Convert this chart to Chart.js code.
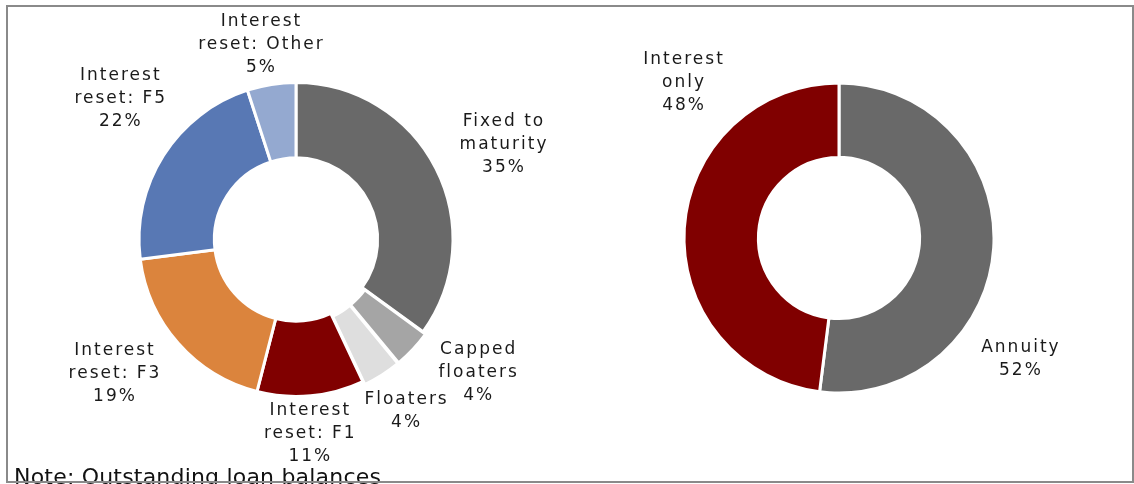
<!DOCTYPE html>
<html>
<head>
<meta charset="utf-8">
<script src="https://cdn.jsdelivr.net/npm/chart.js@4.4.0/dist/chart.umd.min.js"></script>
<style>
	html, body { margin: 0; padding: 0; background: #fff; overflow: hidden; }
	#wrap { position: relative; width: 1134px; height: 484px; overflow: hidden; }
	#frame { position: absolute; left: 6px; top: 5px; width: 1124px; height: 474px; border: 2px solid #8a8a8a; }
	#left { position: absolute; left: 0; top: 0; width: 592px; height: 479px; }
	#right { position: absolute; left: 544px; top: 0; width: 590px; height: 476px; }
	#note { position: absolute; left: 14px; top: 466px; font: 22px/1 "DejaVu Sans", Verdana, sans-serif; letter-spacing: 0.2px; color: #111; white-space: nowrap; }
</style>
</head>
<body>
<div id="wrap">
	<div id="left"><canvas id="leftChart"></canvas></div>
	<div id="right"><canvas id="rightChart"></canvas></div>
	<div id="note">Note: Outstanding loan balances</div>
	<div id="frame"></div>
</div>
<script>
// left donut: fixing type
var fixCategories = [
	["Fixed to", "maturity"],
	["Capped", "floaters"],
	["Floaters"],
	["Interest", "reset: F1"],
	["Interest", "reset: F3"],
	["Interest", "reset: F5"],
	["Interest", "reset: Other"]
];
var fixShares = [35, 4, 4, 11, 19, 22, 5];
var fixColors = ["#696969", "#a5a5a5", "#dedede", "#800000", "#db843d", "#5878b4", "#94a9d0"];

// right donut: repayment type
var repayCategories = [
	["Annuity"],
	["Interest", "only"]
];
var repayShares = [52, 48];
var repayColors = ["#696969", "#800000"];

/////////// labels outside the slices ///////////
var outsideLabels = {
	id: "outsideLabels",
	afterDatasetsDraw: function(chart, args, opts) {
		var ctx = chart.ctx;
		var meta = chart.getDatasetMeta(0);
		var ds = chart.data.datasets[0];
		ctx.save();
		ctx.font = "17px 'DejaVu Sans', Verdana, sans-serif";
		ctx.letterSpacing = "2px";
		ctx.fillStyle = "#1a1a1a";
		ctx.textAlign = "center";
		ctx.textBaseline = "middle";
		var lineH = 23;
		meta.data.forEach(function(arc, i) {
			var lines = chart.data.labels[i].slice();
			lines.push(ds.data[i] + "%");
			var frac = opts.at ? opts.at[i] : 0.5;
			var a = arc.startAngle + (arc.endAngle - arc.startAngle) * frac;
			var h = lines.length * lineH;
			// side labels sit further out than top/bottom ones
			var ext = Math.pow(Math.abs(Math.cos(a)), 1.5) * 65 + Math.abs(Math.sin(a)) * (h / 2 + 2);
			var d = arc.outerRadius + ext;
			var x = arc.x + Math.cos(a) * d;
			var y = arc.y + Math.sin(a) * d - (lines.length - 1) * lineH / 2;
			lines.forEach(function(t, k) {
				ctx.fillText(t, x, y + k * lineH);
			});
		});
		ctx.restore();
	}
};

function donut(id, labels, values, colors, radius, offsets, labelOpts) {
	return new Chart(document.getElementById(id), {
		type: "doughnut",
		data: {
			labels: labels,
			datasets: [{
				data: values,
				backgroundColor: colors,
				borderColor: "#ffffff",
				borderWidth: 3,
				offset: offsets
			}]
		},
		options: {
			responsive: true,
			maintainAspectRatio: false,
			animation: false,
			radius: radius,
			cutout: "52%",
			layout: { padding: 0 },
			plugins: {
				legend: { display: false },
				tooltip: { enabled: false },
				outsideLabels: labelOpts
			}
		},
		plugins: [outsideLabels]
	});
}

donut("leftChart", fixCategories, fixShares, fixColors, 157, [0, 8, 8, 0, 0, 0, 0],
	{ at: [0.52, 0.0, 0.47, 0.53, 0.57, 0.58, 0.44] });
donut("rightChart", repayCategories, repayShares, repayColors, 155, 0,
	{ at: [0.66, 0.74] });
</script>
</body>
</html>
